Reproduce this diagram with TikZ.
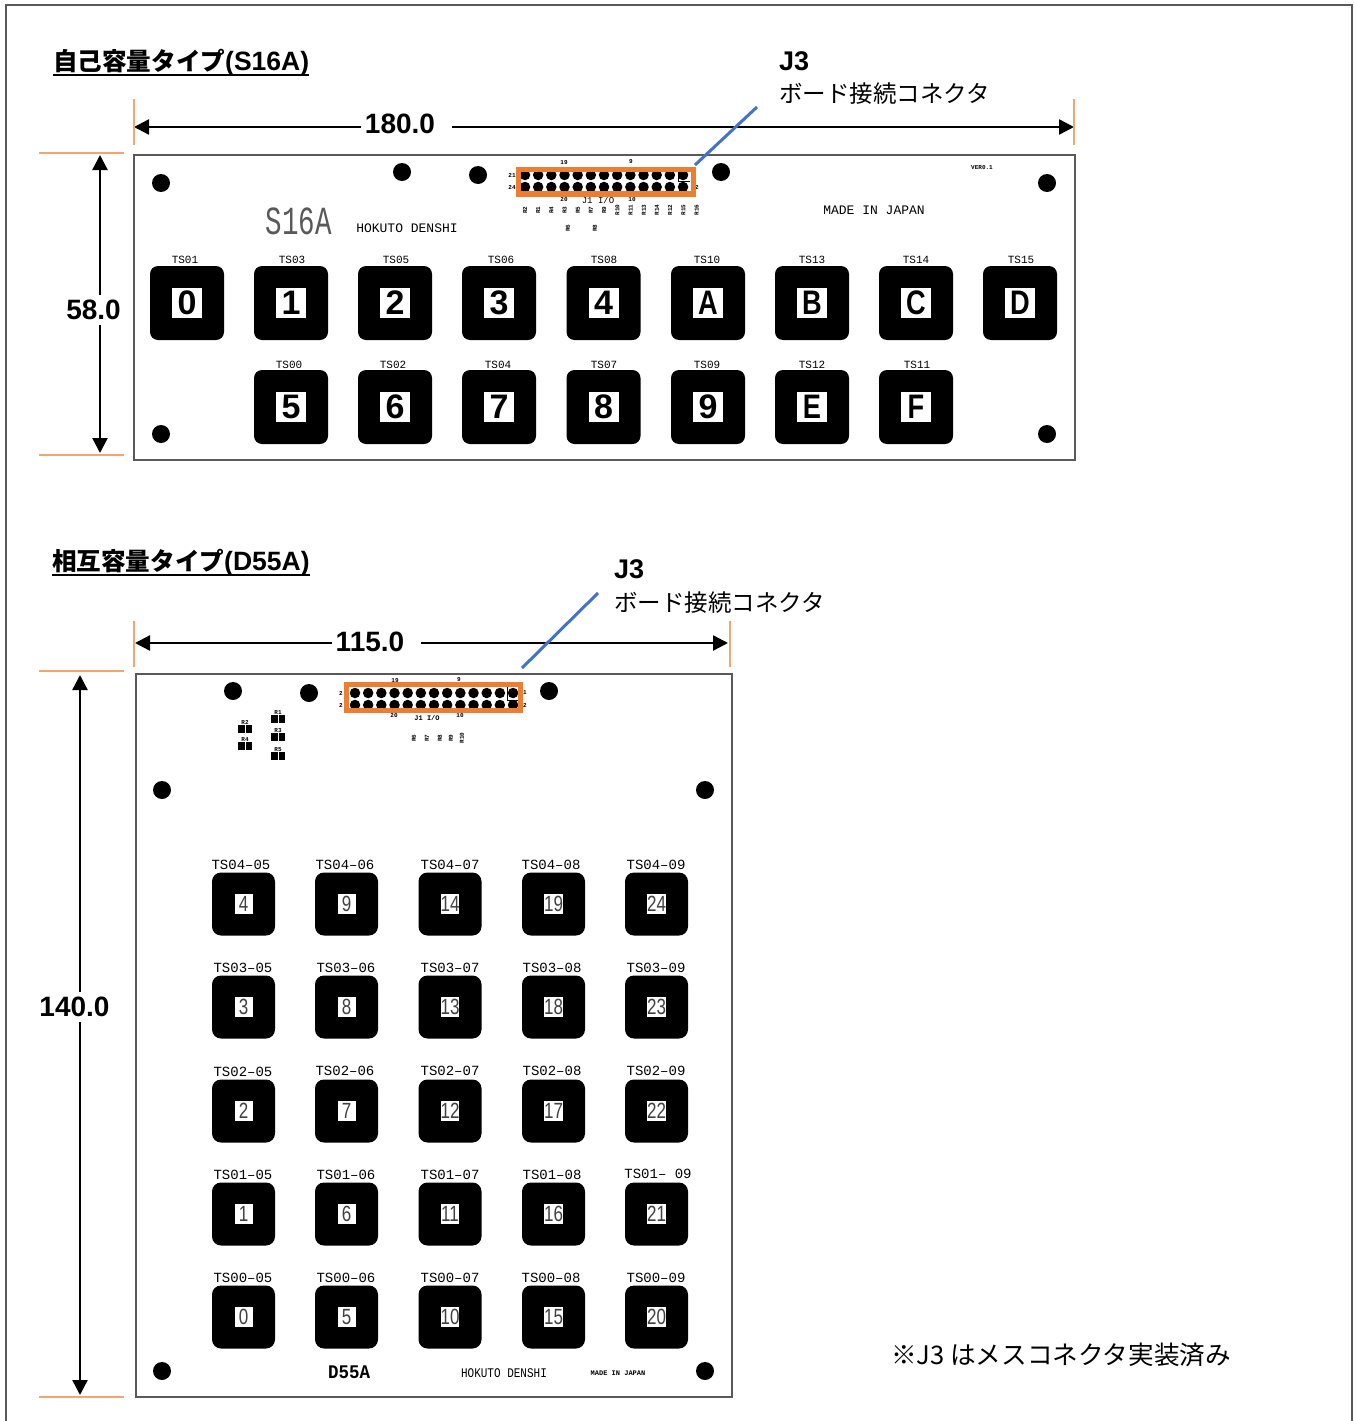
\documentclass[tikz,border=0pt]{standalone}
\usepackage{graphicx}
\usepackage{fontspec}
\setmainfont{Liberation Sans}
\setmonofont{Liberation Mono}
\newfontfamily\cjk{Noto Sans CJK JP}
\usetikzlibrary{arrows.meta}
\definecolor{orangeJ}{HTML}{ED7D31}
\definecolor{tickO}{HTML}{F4A46E}
\definecolor{blueJ}{HTML}{4472C4}
\definecolor{frameG}{HTML}{595959}
\newcommand{\fs}[1]{\fontsize{#1}{#1}\selectfont}
\newcommand{\stretchy}[2]{\scalebox{1}[#1]{#2}}
\newcommand{\nar}[1]{\scalebox{.8}[1]{#1}}
\tikzset{
  txt/.style={inner sep=0pt,outer sep=0pt,text=black},
  title/.style={txt,anchor=west,font=\fs{26.5}\bfseries},
  jlabel/.style={txt,anchor=west,font=\fs{23.5}},
  dimlabel/.style={txt,font=\fs{28}\bfseries,inner xsep=4pt},
  board/.style={draw=frameG,line width=1.4pt,fill=white,outer sep=0pt},
  dimarrow/.style={line width=2.4pt,-{Triangle[length=15pt,width=15pt]}},
  tick/.style={draw=tickO,line width=1.2pt},
  leader/.style={draw=blueJ,line width=3pt},
  jbox/.style={draw=orangeJ,line width=5.5pt,inner sep=0pt,fill=none},
  hole/.style={circle,fill=black,inner sep=0pt,minimum size=18pt},
  pin/.style={circle,fill=black,inner sep=0pt,minimum size=10.5pt},
  bigkey/.style={fill=black,rounded corners=8pt,inner sep=0pt,minimum size=74pt},
  bigface/.style={fill=white,inner sep=0pt,minimum size=30pt,font=\fs{34}\bfseries},
  smallkey/.style={fill=black,rounded corners=9pt,inner sep=0pt,minimum size=63pt},
  smallface/.style={fill=white,inner sep=0pt,minimum width=18pt,minimum height=20pt,text=black!75,font=\fs{20}},
  cad/.style={txt,font=\fs{#1}\ttfamily},
  cadb/.style={txt,font=\fs{#1}\ttfamily\bfseries},
  rblock/.style={fill=black,inner sep=0pt,minimum width=14pt,minimum height=8pt},
  rlabel/.style={txt,rotate=90,font=\fs{6}\ttfamily\bfseries},
  mark1/.style={draw=black,line width=.8pt}
}
\begin{document}
\begin{tikzpicture}[x=1pt,y=-1pt]
\useasboundingbox (0,0) rectangle (1355,1421);
\fill[white] (0,0) rectangle (1355,1421);
\draw[frameG,line width=2pt] (6,1421) -- (6,5.5) -- (1352,5.5) -- (1352,1421);

% ---------- S16A
\node[title] (t1) at (53,62.5) {{\cjk\fs{24.6}\bfseries 自己容量タイプ}(S16A)};
\draw[line width=2pt] (53,74.5) -- (309,74.5);
\node[txt,anchor=west,font=\fs{27}\bfseries] (j1a) at (779,61) {J3};
\node[jlabel] (j1b) at (779,94) {\cjk ボード接続コネクタ};

\node[board,anchor=north west,minimum width=941pt,minimum height=305pt,inner sep=0pt] (b1) at (134,155) {};

\foreach \n/\x/\y in {h1/161/183,h2/402/172,h3/478/175,h4/721/172,h5/1047/183,h6/161/434,h7/1047/434}
  \node[hole] (\n) at (\x,\y) {};

\foreach \i in {0,...,12}{
  \node[pin] (sa\i) at ({525+13.17*\i},175) {};
  \node[pin] (sb\i) at ({525+13.17*\i},187) {};
}
\draw[mark1] (678,168) -- (678,181) -- (690,181);
\node[cadb=6] (sl1) at (564,163) {19};
\node[cadb=6] (sl2) at (631,162) {9};
\node[cadb=6] (sl3) at (564,200) {20};
\node[cadb=6] (sl4) at (632,200) {10};
\node[cad=9] (sl5) at (598,200) {J1 I/O};
\node[cadb=6] (sl6) at (512,175) {21};
\node[cadb=6] (sl7) at (512,187) {24};
\node[cadb=6] (sl8) at (697,187) {2};
\foreach \t [count=\i from 0] in {R2,R1,R4,R3,R5,R7,R9,R10,R11,R13,R14,R12,R15,R16}
  \node[rlabel] (sr\i) at ({525+13.2*\i},210) {\t};
\node[rlabel] (sr14) at (568,228) {R6};
\node[rlabel] (sr15) at (595,228) {R8};
\node[jbox,minimum width=175pt,minimum height=24.5pt] (c1) at (606,181.7) {};

\node[txt,text=black!65,font=\fs{27.5}\ttfamily] (m1) at (299,221.5) {\stretchy{1.45}{S16A}};
\node[cad=13] (m2) at (407,228) {HOKUTO DENSHI};
\node[cad=13] (m3) at (874,210) {MADE IN JAPAN};
\node[cadb=6] (m4) at (982,168) {VER0.1};

\foreach \n/\x/\y/\l/\lx/\ly/\d in {
 k1/187/303/TS01/185/260/0,k2/291/303/TS03/292/260/1,k3/395/303/TS05/396/260/2,
 k4/499/303/TS06/501/260/3,k5/603.5/303/TS08/604/260/4,k6/708/303/TS10/707/260/\nar{A},
 k7/812/303/TS13/812/260/\nar{B},k8/916/303/TS14/916/260/\nar{C},k9/1020/303/TS15/1021/260/\nar{D},
 k10/291/407/TS00/289/365/5,k11/395/407/TS02/393/365/6,k12/499/407/TS04/498/365/7,
 k13/603.5/407/TS07/604/365/8,k14/708/407/TS09/707/365/9,k15/812/407/TS12/812/365/\nar{E},
 k16/916/407/TS11/917/365/\nar{F}}{
  \node[bigkey] (\n) at (\x,\y) {};
  \node[bigface] (\n f) at (\x,\y) {\d};
  \node[cad=11] (\n l) at (\lx,\ly) {\l};
}

\coordinate (dw1) at (134,127); \coordinate (de1) at (1074,127);
\node[dimlabel] (d1) at (406.5,124) {180.0\rule{13pt}{0pt}};
\draw[dimarrow] (d1.west |- dw1) -- (dw1);
\draw[dimarrow] (d1.east |- de1) -- (de1);
\draw[tick] (134,99) -- (134,145);
\draw[tick] (1074,99) -- (1074,145);
\coordinate (dn1) at (100,155); \coordinate (ds1) at (100,453);
\node[txt,font=\fs{28}\bfseries,minimum height=30pt] (d2) at (93.5,310) {58.0};
\draw[dimarrow] (d2.north -| dn1) -- (dn1);
\draw[dimarrow] (d2.south -| ds1) -- (ds1);
\draw[tick] (39,153) -- (124,153);
\draw[tick] (39,455) -- (124,455);
\coordinate (lf1) at (757,107);
\coordinate (le1) at (695,165);
\draw[leader] (lf1) -- (le1);

% ---------- D55A
\node[title] (t2) at (52,562.5) {{\cjk\fs{24.6}\bfseries 相互容量タイプ}(D55A)};
\draw[line width=2pt] (52,574.5) -- (310,574.5);
\node[txt,anchor=west,font=\fs{27}\bfseries] (j2a) at (614,569) {J3};
\node[jlabel] (j2b) at (614,603) {\cjk ボード接続コネクタ};

\node[board,anchor=north west,minimum width=596pt,minimum height=723pt,inner sep=0pt] (b2) at (136,674) {};

\foreach \n/\x/\y in {g1/233/691,g2/309/693,g3/549/691,g4/162/790,g5/705/790,g6/162/1371,g7/705/1371}
  \node[hole] (\n) at (\x,\y) {};

\foreach \i in {0,...,12}{
  \node[pin] (da\i) at ({355+13.17*\i},693) {};
  \node[pin] (db\i) at ({355+13.17*\i},705) {};
}
\draw[mark1] (507,686) -- (507,700) -- (519,700);
\node[cadb=6] (dl1) at (395,681) {19};
\node[cadb=6] (dl2) at (459,680) {9};
\node[cadb=6] (dl3) at (394,716) {20};
\node[cadb=6] (dl4) at (460,716) {10};
\node[cadb=7] (dl5) at (427,718) {J1 I/O};
\node[cadb=6] (dl6) at (341,693) {2};
\node[cadb=6] (dl7) at (341,705) {2};
\node[cadb=6] (dl8) at (525,693) {1};
\node[cadb=6] (dl9) at (525,705) {2};
\foreach \t/\x [count=\i] in {R6/414,R7/427,R8/440,R9/451,R10/462}
  \node[rlabel] (dr\i) at (\x,738) {\t};
\node[jbox,minimum width=174pt,minimum height=26pt] (c2) at (433.5,697.5) {};

\foreach \n/\x/\y in {R2/245/729,R4/245/746,R1/278/719,R3/278/737,R5/278/756}{
  \node[rblock] (\n) at (\x,\y) {};
  \draw[white,line width=.7pt] (\n.north) -- (\n.south);
  \node[txt,font=\fs{6}\ttfamily\bfseries,anchor=south] (\n l) at (\n.north) {\n};
}

\foreach \n/\x/\y/\l/\lx/\ly/\d in {
 p1/243.5/904/TS04–05/241/865/4,p2/346.5/904/TS04–06/345/865/9,p3/450/904/TS04–07/450/865/14,p4/553.5/904/TS04–08/551/865/19,p5/656.5/904/TS04–09/656/865/24,
 p6/243.5/1007/TS03–05/243/968/3,p7/346.5/1007/TS03–06/346/968/8,p8/450/1007/TS03–07/450/968/13,p9/553.5/1007/TS03–08/552/968/18,p10/656.5/1007/TS03–09/656/968/23,
 p11/243.5/1111/TS02–05/243/1072/2,p12/346.5/1111/TS02–06/345/1071/7,p13/450/1111/TS02–07/450/1071/12,p14/553.5/1111/TS02–08/552/1071/17,p15/656.5/1111/TS02–09/656/1071/22,
 p16/243.5/1214/TS01–05/243/1175/1,p17/346.5/1214/TS01–06/346/1175/6,p18/450/1214/TS01–07/450/1175/11,p19/553.5/1214/TS01–08/552/1175/16,p20/656.5/1214/TS01– 09/658/1174/21,
 p21/243.5/1317/TS00–05/243/1278/0,p22/346.5/1317/TS00–06/346/1278/5,p23/450/1317/TS00–07/450/1278/10,p24/553.5/1317/TS00–08/551/1278/15,p25/656.5/1317/TS00–09/656/1278/20}{
  \node[smallkey] (\n) at (\x,\y) {};
  \node[smallface] (\n f) at (\x,\y) {\scalebox{.85}[1.1]{\d}};
  \node[cad=14] (\n l) at (\lx,\ly) {\l};
}

\node[txt,font=\fs{17.5}\ttfamily\bfseries] (e1) at (349,1372) {\stretchy{1.1}{D55A}};
\node[cad=11] (e2) at (504,1373) {\stretchy{1.2}{HOKUTO DENSHI}};
\node[cadb=7] (e3) at (618,1373) {MADE IN JAPAN};

\coordinate (dw2) at (135,643); \coordinate (de2) at (728,643);
\node[dimlabel] (d3) at (376.5,642) {115.0\rule{13pt}{0pt}};
\draw[dimarrow] (d3.west |- dw2) -- (dw2);
\draw[dimarrow] (d3.east |- de2) -- (de2);
\draw[tick] (134,621) -- (134,667);
\draw[tick] (730,621) -- (730,667);
\coordinate (dn2) at (80,675); \coordinate (ds2) at (80,1395);
\node[txt,font=\fs{28}\bfseries,minimum height=30pt] (d4) at (74.5,1007) {140.0};
\draw[dimarrow] (d4.north -| dn2) -- (dn2);
\draw[dimarrow] (d4.south -| ds2) -- (ds2);
\draw[tick] (39,671) -- (124,671);
\draw[tick] (39,1397) -- (124,1397);
\coordinate (lf2) at (598,593);
\coordinate (le2) at (522,668);
\draw[leader] (lf2) -- (le2);

\node[txt,anchor=west,font=\fs{25.6}] (n1) at (891,1355) {\cjk ※J3 はメスコネクタ実装済み};
\end{tikzpicture}
\end{document}
